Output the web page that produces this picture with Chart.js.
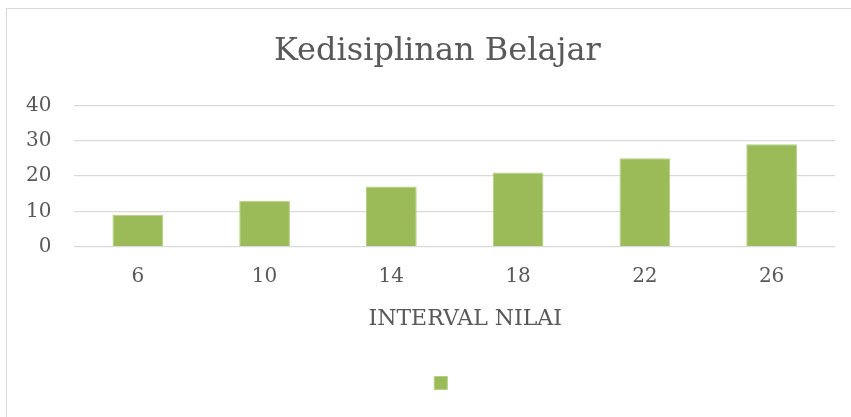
<!DOCTYPE html>
<html>
<head>
<meta charset="utf-8">
<script src="https://cdn.jsdelivr.net/npm/chart.js@4/dist/chart.umd.min.js"></script>
<style>
  html, body { margin: 0; padding: 0; background: #fff; }
  #wrap { position: relative; width: 851px; height: 417px; }
</style>
</head>
<body>
<div id="wrap"><canvas id="kedisiplinanChart"></canvas></div>
<script>
var categories = ['6', '10', '14', '18', '22', '26'];
var frequencies = [9, 13, 17, 21, 25, 29];
var yTicks = [0, 10, 20, 30, 40];
// the series has no name in the source, only blank space next to the key
var seriesName = '\u00a0\u00a0\u00a0\u00a0\u00a0\u00a0\u00a0';
// leading spaces nudge the texts right, where the source draws them
var chartTitle = '\u00a0\u00a0\u00a0\u2009Kedisiplinan Belajar';
var xTitle = '\u00a0\u00a0\u00a0INTERVAL NILAI';

// light frame around the whole chart, like the exported picture
var framePlugin = {
    id: 'frame',
    beforeDraw: function (chart) {
        var c = chart.ctx;
        c.save();
        c.strokeStyle = '#d9d9d9';
        c.lineWidth = 1;
        c.strokeRect(6.5, 8.5, chart.width + 20, chart.height + 20);
        c.restore();
    }
};

var ctx = document.getElementById('kedisiplinanChart').getContext('2d');
var kedisiplinanChart = new Chart(ctx, {
    type: 'bar',
    data: {
        labels: categories,
        datasets: [{
            label: seriesName,
            data: frequencies,
            backgroundColor: '#9bbb59',
            borderColor: '#b5cd85',
            borderWidth: 1,
            barPercentage: 0.4,
            categoryPercentage: 1
        }]
    },
    plugins: [framePlugin],
    options: {
        responsive: true,
        maintainAspectRatio: false,
        animation: false,
        layout: {
            padding: { left: 3, right: 16, top: 0, bottom: 16 }
        },
        plugins: {
            title: {
                display: true,
                text: chartTitle,
                color: '#595959',
                font: { family: 'DejaVu Serif', size: 32, weight: 'normal' },
                padding: { top: 32, bottom: 35 }
            },
            legend: {
                display: true,
                position: 'bottom',
                rtl: true,
                labels: {
                    boxWidth: 13,
                    boxHeight: 13,
                    padding: 43,
                    font: { family: 'DejaVu Serif', size: 16 }
                }
            },
            tooltip: { enabled: false }
        },
        scales: {
            x: {
                grid: { display: false, drawTicks: false },
                border: { display: false },
                ticks: {
                    color: '#595959',
                    font: { family: 'DejaVu Serif', size: 20 },
                    padding: 18
                },
                title: {
                    display: true,
                    text: xTitle,
                    color: '#595959',
                    font: { family: 'DejaVu Serif', size: 22 },
                    padding: { top: -1, bottom: 0 }
                }
            },
            y: {
                min: 0,
                max: 40,
                afterBuildTicks: function (axis) {
                    axis.ticks = yTicks.map(function (v) { return { value: v }; });
                },
                grid: { color: '#d9d9d9', lineWidth: 1.3, drawTicks: false },
                border: { display: false },
                ticks: {
                    color: '#595959',
                    font: { family: 'DejaVu Serif', size: 20 },
                    padding: 23
                }
            }
        }
    }
});
</script>
</body>
</html>
